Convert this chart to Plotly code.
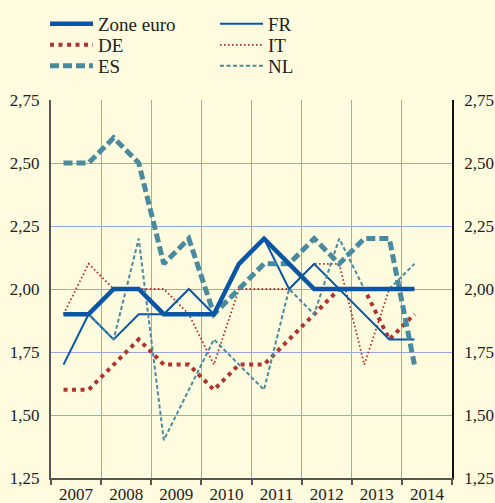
import plotly.graph_objects as go

# Half-yearly points (spring / autumn), 2007 to spring 2014
periods = [2007.25 + 0.5 * i for i in range(15)]
years = ["2007", "2008", "2009", "2010", "2011", "2012", "2013", "2014"]

zone_euro = [1.9, 1.9, 2.0, 2.0, 1.9, 1.9, 1.9, 2.1, 2.2, 2.1, 2.0, 2.0, 2.0, 2.0, 2.0]
fr = [1.7, 1.9, 1.8, 1.9, 1.9, 2.0, 1.9, 2.1, 2.2, 2.0, 2.1, 2.0, 1.9, 1.8, 1.8]
de = [1.6, 1.6, 1.7, 1.8, 1.7, 1.7, 1.6, 1.7, 1.7, 1.8, 1.9, 2.0, 2.0, 1.8, 1.9]
it = [1.9, 2.1, 2.0, 2.0, 2.0, 1.9, 1.7, 2.0, 2.0, 2.0, 2.1, 2.1, 1.7, 2.0, 2.0]
es = [2.5, 2.5, 2.6, 2.5, 2.1, 2.2, 1.9, 2.0, 2.1, 2.1, 2.2, 2.1, 2.2, 2.2, 1.7]
nl = [1.9, 1.9, 1.8, 2.2, 1.4, 1.6, 1.8, 1.7, 1.6, 2.0, 1.9, 2.2, 2.0, 2.0, 2.1]

y_ticks = [1.25, 1.50, 1.75, 2.00, 2.25, 2.50, 2.75]

BLUE = "#0b55a6"
RED = "#b0342d"
TEAL = "#4a8a9e"
BG = "#fefbdf"
GRID = "#98a6e2"
FONT = "Liberation Serif"

W, H = 495, 503

fig = go.Figure()

# (name, values, colour, width, dash, legend slot) in drawing order
series = [
    ("DE", de, RED, 4, "4px,4.5px", "legend2"),
    ("IT", it, RED, 1.8, "1.6px,2.4px", "legend5"),
    ("FR", fr, BLUE, 2, "solid", "legend4"),
    ("NL", nl, TEAL, 2, "4px,2.5px", "legend6"),
    ("ES", es, TEAL, 5, "9px,4px", "legend3"),
    ("Zone euro", zone_euro, BLUE, 4.5, "solid", "legend"),
]

for name, vals, col, wd, dash, leg in series:
    fig.add_trace(go.Scatter(
        x=periods, y=vals, name=name, mode="lines",
        line=dict(color=col, width=wd, dash=dash),
        legend=leg,
    ))

# invisible trace carrying the right-hand axis
fig.add_trace(go.Scatter(x=[periods[0]], y=[2.0], yaxis="y2", mode="markers",
                         marker=dict(opacity=0), showlegend=False, hoverinfo="skip"))

legend_common = dict(
    font=dict(family=FONT, size=19, color="#222222"),
    bgcolor="rgba(0,0,0,0)",
    xref="container", yref="container", xanchor="left", yanchor="top",
    itemwidth=43,
)

# two columns of three entries
col_x = [45, 215]
row_top = [5, 26, 47]
slots = {
    "legend": (0, 0), "legend2": (0, 1), "legend3": (0, 2),
    "legend4": (1, 0), "legend5": (1, 1), "legend6": (1, 2),
}
legends = {
    key: dict(x=col_x[c] / W, y=1 - row_top[r] / H, **legend_common)
    for key, (c, r) in slots.items()
}

fig.update_layout(
    width=W, height=H,
    paper_bgcolor=BG, plot_bgcolor=BG,
    separators=", ",
    margin=dict(l=51, r=43, t=100, b=25, autoexpand=False),
    font=dict(family=FONT, size=17, color="#222222"),
    showlegend=True,
    **legends,
    xaxis=dict(
        range=[2007, 2015], showgrid=False, zeroline=False,
        tickmode="array", tickvals=[y + 0.5 for y in range(2007, 2015)], ticktext=years,
        ticks="", ticklabelstandoff=0, tickangle=0,
        tickfont=dict(family=FONT, size=17, color="#222222"),
        showline=True, linecolor="#555555", linewidth=1.5,
        minor=dict(tickmode="array", tickvals=list(range(2007, 2016)),
                   ticks="outside", ticklen=5, tickcolor="#555555", tickwidth=1.5,
                   showgrid=True, gridcolor=GRID, gridwidth=1),
    ),
    yaxis=dict(
        range=[1.25, 2.75], tickmode="array", tickvals=y_ticks, tickformat=".2f",
        showgrid=True, gridcolor=GRID, gridwidth=1, zeroline=False,
        ticks="", ticklabelstandoff=6,
        showline=True, linecolor="#555555", linewidth=2,
        tickfont=dict(family=FONT, size=17, color="#222222"),
    ),
    yaxis2=dict(
        range=[1.25, 2.75], tickmode="array", tickvals=y_ticks, tickformat=".2f",
        overlaying="y", side="right", showgrid=False, zeroline=False,
        ticks="", ticklabelstandoff=7,
        showline=True, linecolor="#111111", linewidth=1.5,
        tickfont=dict(family=FONT, size=17, color="#222222"),
    ),
)

fig.write_html("out.html")
